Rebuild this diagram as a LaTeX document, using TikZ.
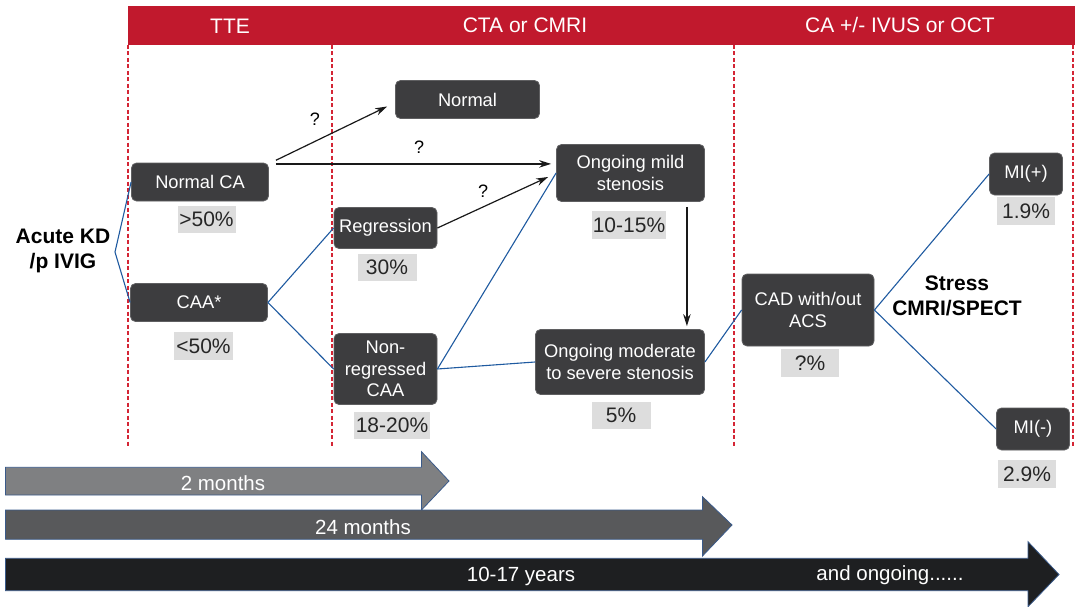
\documentclass[tikz,border=0pt]{standalone}
\usepackage{fontspec}
\setmainfont{Liberation Sans}
\usetikzlibrary{arrows.meta}
\definecolor{hdrred}{HTML}{C1192D}
\definecolor{dashred}{HTML}{D42535}
\definecolor{boxgray}{HTML}{3D3D3F}
\definecolor{boxedge}{HTML}{5F5F61}
\definecolor{lblgray}{HTML}{DDDDDD}
\definecolor{lnblue}{HTML}{1F5AA0}
\definecolor{arrA}{HTML}{7F8082}
\definecolor{arrB}{HTML}{58595B}
\definecolor{arrC}{HTML}{1E1F21}
\definecolor{arredge}{HTML}{3A5A8A}
\tikzset{
  stepbox/.style={fill=boxgray, draw=boxedge, line width=0.8pt, rounded corners=5pt, text=white,
    font=\fontsize{18.3}{21.5}\selectfont, align=center, inner sep=0pt},
  pct/.style={fill=lblgray, text=black!85, font=\fontsize{21}{24}\selectfont, inner sep=0pt},
  hdr/.style={text=white, font=\fontsize{21}{24}\selectfont},
  qm/.style={text=black, font=\fontsize{18}{21}\selectfont},
  bold/.style={text=black, font=\bfseries\fontsize{21}{25}\selectfont, align=center},
  blue/.style={draw=lnblue, line width=1.1pt},
  blk/.style={draw=black!90, line width=1.2pt, -{Stealth[length=12pt,width=7.5pt]}},
  vdash/.style={draw=dashred, line width=2.3pt, dash pattern=on 4pt off 2.5pt},
  tarrow/.style={draw=arredge, line width=0.8pt},
  atext/.style={text=white, font=\fontsize{20.5}{24}\selectfont}
}
\begin{document}
\begin{tikzpicture}[x=1pt,y=-1pt]
\useasboundingbox (0,0) rectangle (1075,607);
% header bar
\fill[hdrred] (128,6) rectangle (1075,45);
\node[hdr] (hTTE) at (230,26) {TTE};
\node[hdr] (hCTA) at (525,25) {CTA or CMRI};
\node[hdr] (hCA) at (900,25) {CA +/- IVUS or OCT};
% dashed separators
\draw[vdash] (128,45) -- (128,447);
\draw[vdash] (332,45) -- (332,447);
\draw[vdash] (734,45) -- (734,447);
\draw[vdash] (1073,45) -- (1073,447);
% boxes
\node[stepbox, minimum width=144pt, minimum height=38pt] (normal) at (467.5,99.5) {Normal};
\node[stepbox, minimum width=137pt, minimum height=38pt] (normalca) at (200,182) {Normal CA};
\node[stepbox, minimum width=137pt, minimum height=38pt] (caa) at (199,302.5) {CAA*};
\node[stepbox, minimum width=103pt, minimum height=41pt] (regression) at (385.5,228) {Regression};
\node[stepbox, minimum width=103pt, minimum height=71pt] (nonreg) at (385.5,369) {Non-\\regressed\\CAA};
\node[stepbox, minimum width=148pt, minimum height=57pt] (mild) at (630.5,173) {Ongoing mild\\stenosis};
\node[stepbox, minimum width=169pt, minimum height=65pt] (moderate) at (620,362) {Ongoing moderate\\to severe stenosis};
\node[stepbox, minimum width=132pt, minimum height=72pt] (cad) at (808,310) {CAD with/out\\ACS};
\node[stepbox, minimum width=73pt, minimum height=42pt] (miplus) at (1026,174) {MI(+)};
\node[stepbox, minimum width=73pt, minimum height=42pt] (miminus) at (1033,429) {MI(-)};
% percentage labels
\node[pct, minimum width=58pt, minimum height=27pt] (p1) at (206.5,219) {>50\%};
\node[pct, minimum width=59pt, minimum height=28pt] (p2) at (203.5,346) {<50\%};
\node[pct, minimum width=59pt, minimum height=27pt] (p3) at (387,267) {30\%};
\node[pct, minimum width=76pt, minimum height=27pt] (p4) at (392,425) {18-20\%};
\node[pct, minimum width=74pt, minimum height=28pt] (p5) at (629,225) {10-15\%};
\node[pct, minimum width=59pt, minimum height=27pt] (p6) at (621,415) {5\%};
\node[pct, minimum width=58pt, minimum height=28pt] (p7) at (810,363) {?\%};
\node[pct, minimum width=58pt, minimum height=28pt] (p8) at (1026,211) {1.9\%};
\node[pct, minimum width=58pt, minimum height=28pt] (p9) at (1027,474) {2.9\%};
% side texts
\node[bold] (kdtext) at (63,251) {Acute KD\\/p IVIG};
\node[bold] (stress) at (957,296) {Stress\\CMRI/SPECT};
% question marks
\node[qm] (q1) at (315,119) {?};
\node[qm] (q2) at (419,147) {?};
\node[qm] (q3) at (483,191) {?};
% blue connectors
\coordinate (kd) at (115,252);
\draw[blue] (normalca.west) -- (kd) -- (caa.west);
\draw[blue] (caa.east) -- (regression.west);
\draw[blue] (caa.east) -- (nonreg.west);
\draw[blue] (nonreg.east) -- (mild.west);
\draw[blue] (nonreg.east) -- (moderate.west);
\draw[blue] (moderate.east) -- (cad.west);
\draw[blue] (cad.east) -- (miplus.west);
\draw[blue] (cad.east) -- (miminus.west);
% black arrows
\coordinate (s1) at ([xshift=7pt,yshift=2.3pt]normalca.north east);
\coordinate (s2) at ([xshift=7pt,yshift=-1.3pt]normalca.north east);
\coordinate (e1) at ([xshift=-8pt,yshift=-7pt]normal.west);
\draw[blk] (s1) -- (e1);
\draw[blk] (s2) -- ([xshift=-5pt]s2 -| mild.west);
\coordinate (e3) at ([xshift=-8pt,yshift=-4pt]mild.west);
\draw[blk] (regression.east) -- (e3);
\coordinate (v1) at ([xshift=-18pt,yshift=-5pt]mild.south east);
\draw[blk] (v1) -- ([yshift=3pt]v1 |- moderate.north);
% timeline arrows
\draw[tarrow, fill=arrA] (5.5,467.3) -- (421.5,467.3) -- (421.5,451.7) -- (449,481) -- (421.5,510) -- (421.5,495) -- (5.5,495) -- cycle;
\draw[tarrow, fill=arrB] (5.5,510) -- (702.5,510) -- (702.5,496.7) -- (732,525) -- (702.5,556) -- (702.5,539.3) -- (5.5,539.3) -- cycle;
\draw[tarrow, fill=arrC] (5.5,558.3) -- (1028,558.3) -- (1028,541.7) -- (1059,574.5) -- (1028,606.7) -- (1028,590.7) -- (5.5,590.7) -- cycle;
\node[atext] (t1) at (223,483) {2 months};
\node[atext] (t2) at (363,527) {24 months};
\node[atext] (t3) at (521,576) {10-17 years};
\node[atext] (t4) at (890,575) {and ongoing......};
\end{tikzpicture}
\end{document}
